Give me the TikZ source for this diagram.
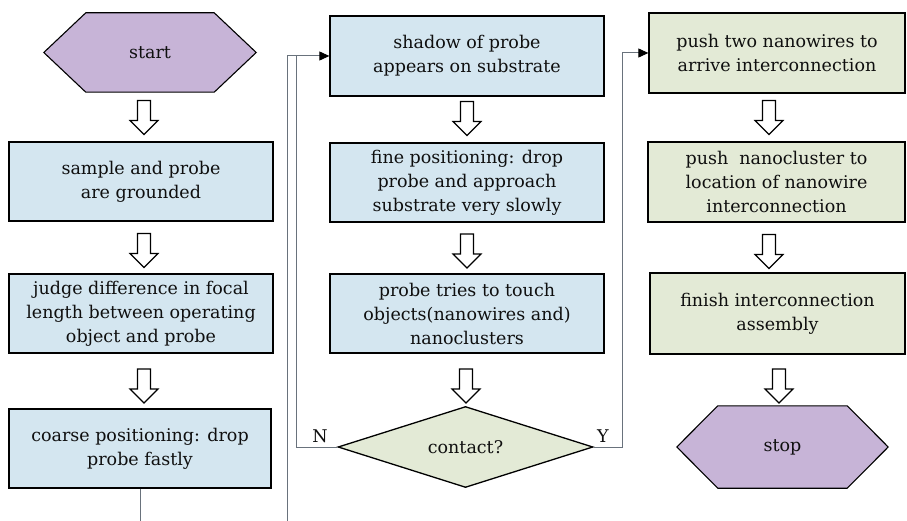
\documentclass[tikz,border=0pt]{standalone}
\usepackage{fontspec}
\setmainfont{DejaVu Serif}
\usetikzlibrary{shapes.geometric,arrows.meta,backgrounds}
\definecolor{boxblue}{RGB}{212,230,240}
\definecolor{boxgreen}{RGB}{227,234,214}
\definecolor{hexpurple}{RGB}{199,180,215}
\definecolor{linegray}{RGB}{105,114,124}
\definecolor{txt}{RGB}{15,15,15}
\tikzset{
  every node/.style={text=txt, font=\fontsize{17.5}{24}\selectfont},
  bluebox/.style={draw=black, line width=1.3pt, fill=boxblue, align=center, inner sep=0pt},
  greenbox/.style={draw=black, line width=1.3pt, fill=boxgreen, align=center, inner sep=0pt},
  hexa/.style={inner sep=0pt},
  hexfill/.style={draw=black, line width=1.1pt, fill=hexpurple, line join=miter},
  decision/.style={diamond, aspect=3.15, draw=black, line width=1.3pt, fill=boxgreen, inner sep=0pt,
     minimum width=255pt, minimum height=81pt},
  harrow/.style={draw=black, line width=1.2pt, fill=white, line join=miter},
  link/.style={draw=linegray, line width=1pt},
  tip/.style={-{Triangle[length=10pt,width=9pt,color=black]}, draw=linegray, line width=1pt},
  lbl/.style={font=\fontsize{17.5}{20}\selectfont}
}
\newcommand\hollowarrow[1]{%
  \draw[harrow] (#1) ++(-6.5,-17) -- ++(13,0) -- ++(0,20) -- ++(7.5,0) -- ++(-14,14) -- ++(-14,-14) -- ++(7.5,0) -- cycle;}
\newcommand\hexagon[2]{% node name, chamfer
  \draw[hexfill] (#1.west) -- ([xshift=#2]#1.north west) -- ([xshift=-#2]#1.north east) -- (#1.east)
     -- ([xshift=-#2]#1.south east) -- ([xshift=#2]#1.south west) -- cycle;}
\begin{document}
\begin{tikzpicture}[x=1pt,y=-1pt]
\useasboundingbox (0,0) rectangle (907,521);
% left column
\node[hexa, minimum width=212pt, minimum height=79pt] (start) at (150,52.5) {start};
\node[bluebox, minimum width=264pt, minimum height=79pt] (b1) at (141,181.5) {sample and probe\\are grounded};
\node[bluebox, minimum width=264pt, minimum height=79pt] (b2) at (141,313.5) {judge difference in focal\\length between operating\\object and probe};
\node[bluebox, minimum width=262pt, minimum height=79pt] (b3) at (140,448.5) {coarse positioning: drop\\probe fastly};
\coordinate (a1) at (144,117.5);
\coordinate (a2) at (144,250.5);
\coordinate (a3) at (144,386);
% middle column
\node[bluebox, minimum width=274pt, minimum height=80pt] (m1) at (467,56) {shadow of probe\\appears on substrate};
\node[bluebox, minimum width=274pt, minimum height=79pt] (m2) at (467,182.5) {fine positioning: drop\\probe and approach\\substrate very slowly};
\node[bluebox, minimum width=274pt, minimum height=79pt] (m3) at (467,313.5) {probe tries to touch\\objects(nanowires and)\\nanoclusters};
\node[decision] (dec) at (465.5,447) {contact?};
\coordinate (a4) at (467,118.5);
\coordinate (a5) at (467,251);
\coordinate (a6) at (466,386);
% right column
\node[greenbox, minimum width=256pt, minimum height=80pt] (r1) at (777,53) {push two nanowires to\\arrive interconnection};
\node[greenbox, minimum width=257pt, minimum height=80pt] (r2) at (776.5,182) {push\ \ nanocluster to\\location of nanowire\\interconnection};
\node[greenbox, minimum width=255pt, minimum height=81pt] (r3) at (777.5,313.5) {finish interconnection\\assembly};
\node[hexa, minimum width=211pt, minimum height=82pt] (stop) at (782.5,447) {stop};
\coordinate (a7) at (769,117.5);
\coordinate (a8) at (769,251.5);
\coordinate (a9) at (779,386);
\begin{scope}[on background layer]
  \fill[white] (0,0) rectangle (907,521);
  \hexagon{start}{42pt}
  \hexagon{stop}{41pt}
\end{scope}
\foreach \a in {a1,a2,a3,a4,a5,a6,a7,a8,a9} {\hollowarrow{\a}}
% connectors
\coordinate (lowL) at (140,521);
\coordinate (lowM) at (287,521);
\coordinate (nUp) at (296,55);
\coordinate (yUp) at (622,447);
\draw[link] (b3.south) -- (lowL);
\draw[tip] (lowM) |- (m1.west);
\draw[link] (dec.west) -| (nUp);
\draw[tip] (dec.east) -- (yUp) |- (r1.west);
\node[lbl, anchor=south] (nlab) at (320,446) {N};
\node[lbl, anchor=south] (ylab) at (603,446) {Y};
\end{tikzpicture}
\end{document}
